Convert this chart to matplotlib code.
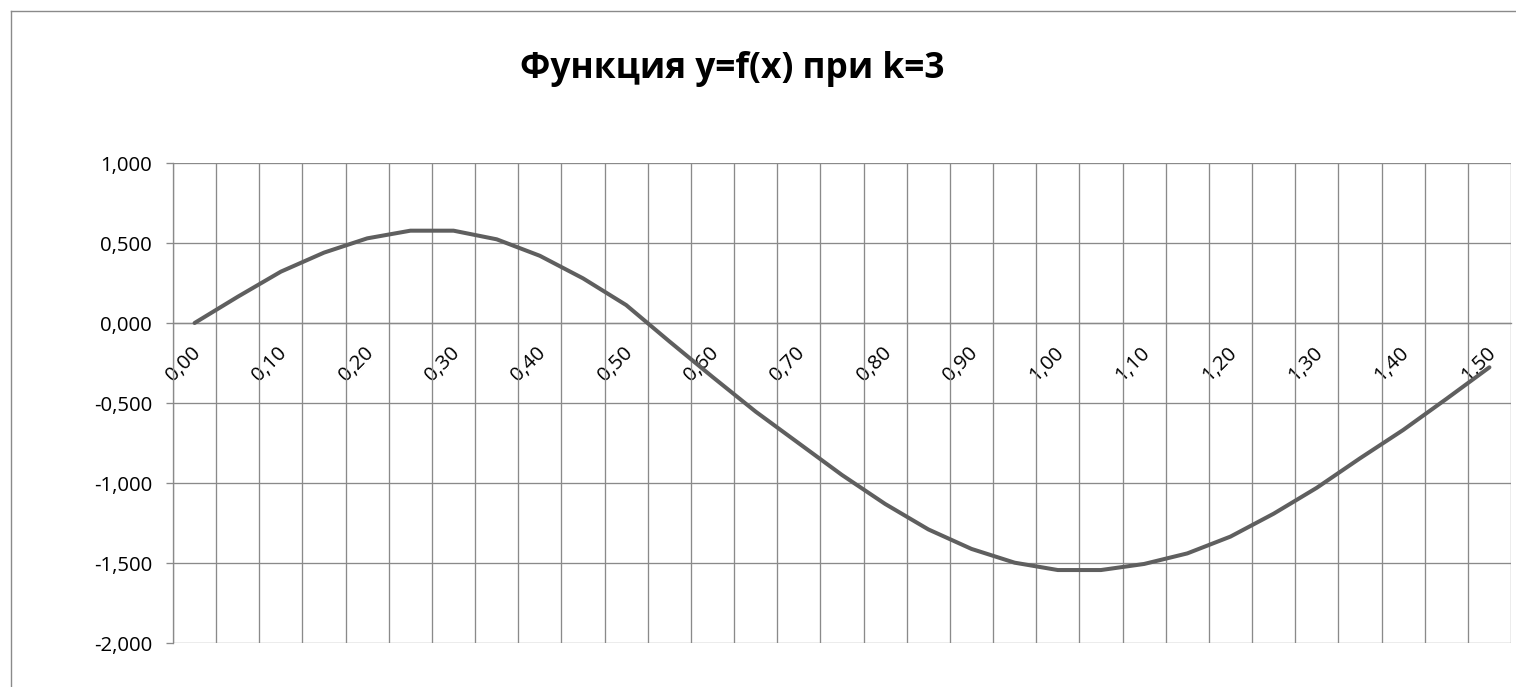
import matplotlib
matplotlib.use("Agg")
import matplotlib.pyplot as plt
from matplotlib.lines import Line2D
from matplotlib.transforms import ScaledTranslation

# ---- data ----
categories = ['0,00', '0,05', '0,10', '0,15', '0,20', '0,25', '0,30', '0,35',
              '0,40', '0,45', '0,50', '0,55', '0,60', '0,65', '0,70', '0,75',
              '0,80', '0,85', '0,90', '0,95', '1,00', '1,05', '1,10', '1,15',
              '1,20', '1,25', '1,30', '1,35', '1,40', '1,45', '1,50']
values = [0.000, 0.164, 0.321, 0.440, 0.529, 0.577, 0.577, 0.523,
          0.420, 0.279, 0.112, -0.115, -0.337, -0.554, -0.752, -0.950,
          -1.131, -1.290, -1.412, -1.498, -1.544, -1.544, -1.506, -1.440,
          -1.335, -1.192, -1.030, -0.846, -0.669, -0.475, -0.277]
y_ticks = [1.0, 0.5, 0.0, -0.5, -1.0, -1.5, -2.0]
y_tick_labels = ['1,000', '0,500', '0,000', '-0,500', '-1,000', '-1,500', '-2,000']
title = 'Функция y=f(x) при k=3'

# ---- figure ----
W, H = 1516, 687
plt.rcParams['font.family'] = ['Open Sans', 'DejaVu Sans']
fig = plt.figure(figsize=(W / 100, H / 100), dpi=100)
fig.patch.set_facecolor('white')

grid_c = '#8a8a8a'
line_c = '#5f5f5f'

# chart-area border (right/bottom edges fall outside the image)
fig.add_artist(Line2D([11 / W, 11 / W], [0, 1 - 11 / H], transform=fig.transFigure,
                      color=grid_c, lw=1.0))
fig.add_artist(Line2D([11 / W, 1], [1 - 11 / H, 1 - 11 / H], transform=fig.transFigure,
                      color=grid_c, lw=1.0))

ax = fig.add_axes([173 / W, 1 - 643 / H, (1511 - 173) / W, (643 - 163) / H])

# spine positions first (this resets tick objects)
for s in ['top', 'right']:
    ax.spines[s].set_visible(False)
ax.spines['bottom'].set_position(('data', 0))
ax.spines['left'].set_color(grid_c)
ax.spines['left'].set_linewidth(0.95)
ax.spines['bottom'].set_color(grid_c)
ax.spines['bottom'].set_linewidth(0.95)

n = len(categories)
pos = [i + 0.5 for i in range(n)]
ax.plot(pos, values, color=line_c, lw=2.9, solid_joinstyle='round',
        solid_capstyle='round', zorder=3)

ax.set_xlim(0, n)
ax.set_ylim(-2, 1)

ax.set_xticks(pos[::2])
ax.set_xticks(range(n + 1), minor=True)
ax.tick_params(axis='x', which='both', length=0, pad=14.5)
ax.set_xticklabels(categories[::2], rotation=45, ha='right', va='top',
                   rotation_mode='anchor', fontsize=14.7)
shift = ScaledTranslation(-4 / 100, 0, fig.dpi_scale_trans)
for lbl in ax.get_xticklabels():
    lbl.set_transform(lbl.get_transform() + shift)

ax.set_yticks(y_ticks)
ax.tick_params(axis='y', which='major', length=5, width=0.95, color=grid_c,
               direction='out', pad=10)
ax.set_yticklabels(y_tick_labels, fontsize=14.7)

ax.grid(which='minor', axis='x', color=grid_c, lw=0.95)
ax.grid(which='major', axis='y', color=grid_c, lw=0.95)
ax.set_axisbelow(True)

fig.text(732 / W, 1 - 78 / H, title, ha='center', va='baseline',
         fontsize=25.4, fontweight='bold', color='black')

fig.savefig('out.png', dpi=100, facecolor='white')
